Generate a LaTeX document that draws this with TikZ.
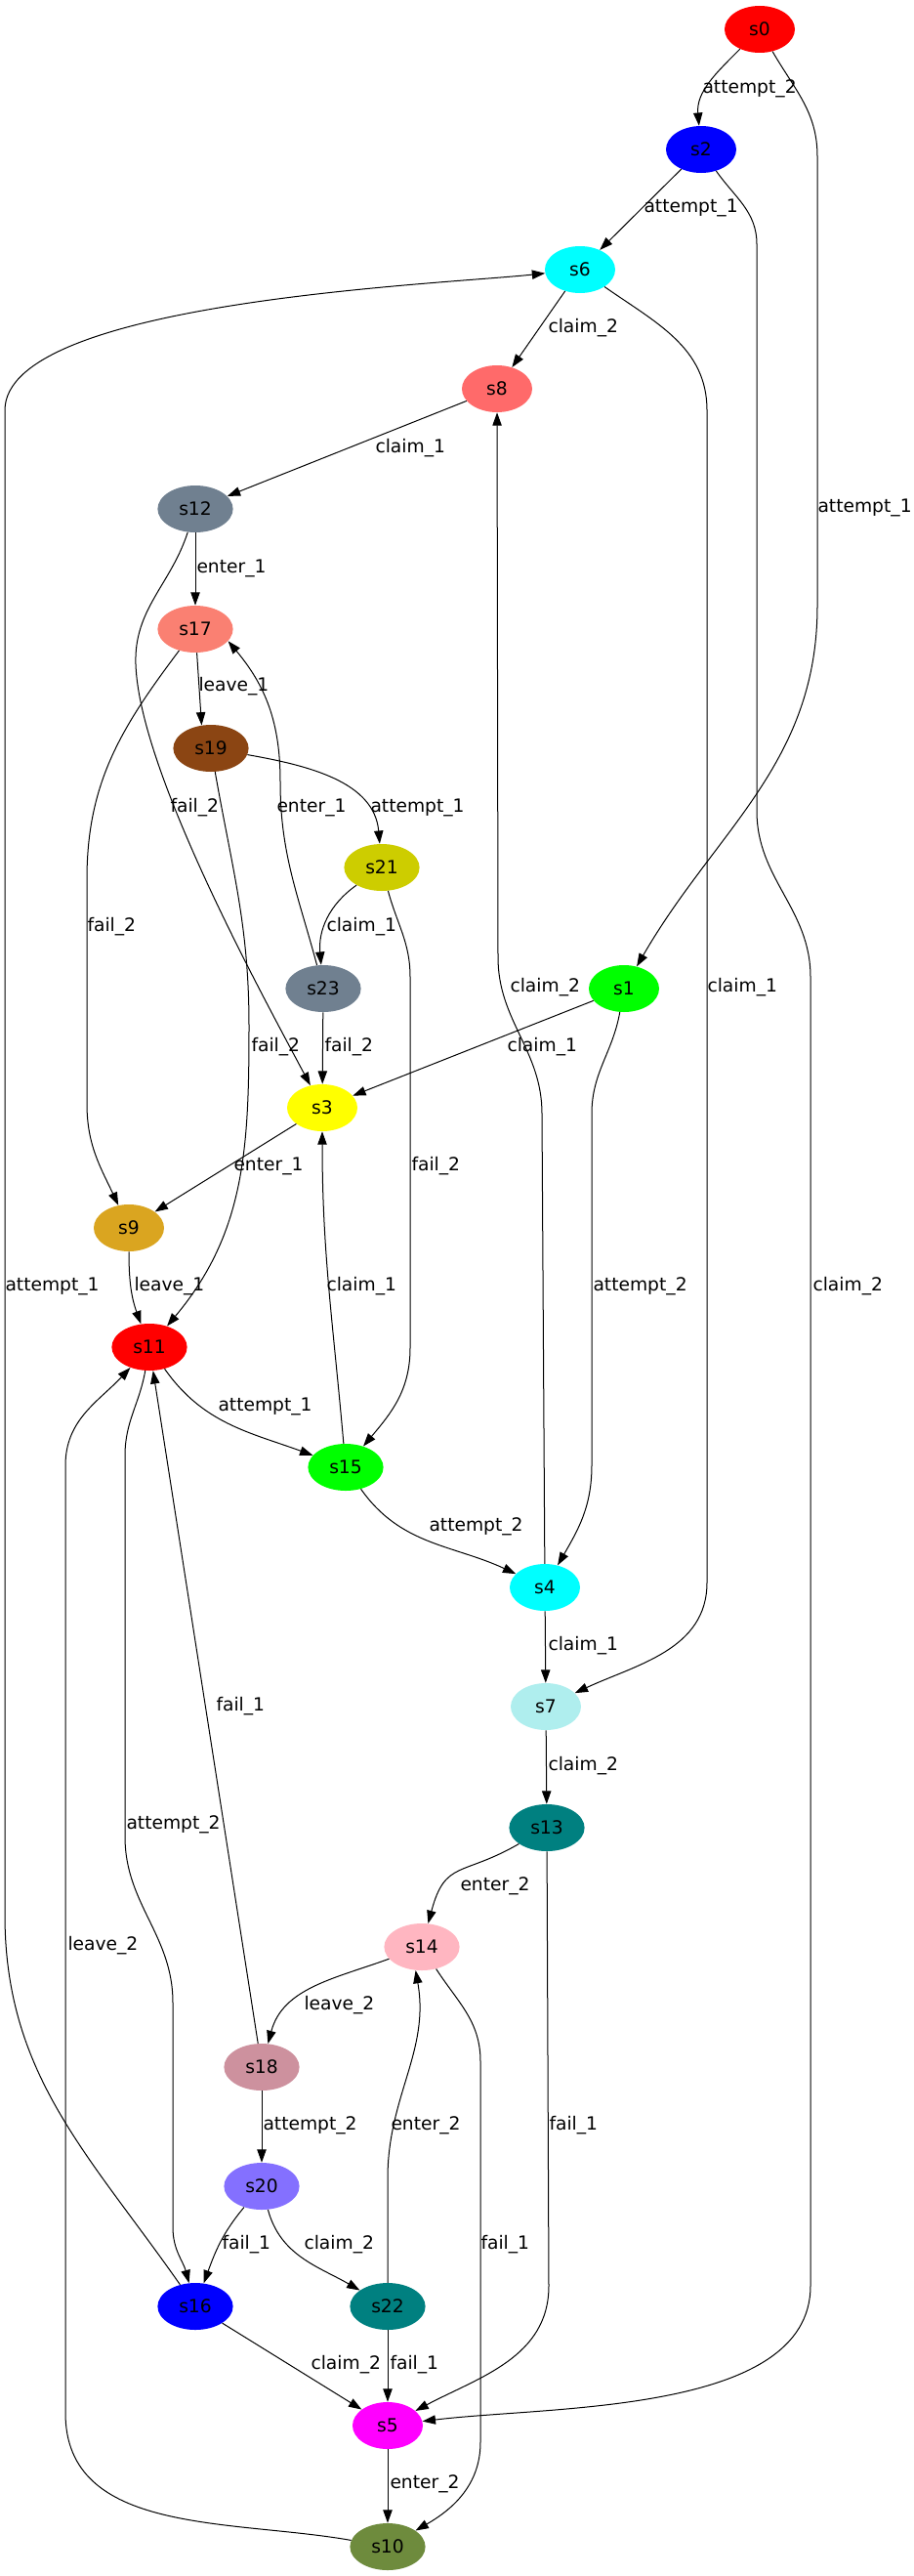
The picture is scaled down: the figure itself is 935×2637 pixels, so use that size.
\documentclass[tikz,border=0pt]{standalone}
\usepackage{fontspec}
\setmainfont{DejaVu Sans}
\usepackage{tikz}
\usetikzlibrary{shapes.geometric, arrows.meta}

\definecolor{colRed}{RGB}{255,0,0}
\definecolor{colBlue}{RGB}{0,0,255}
\definecolor{colGreen}{RGB}{0,255,0}
\definecolor{colCyan}{RGB}{0,255,255}
\definecolor{colYellow}{RGB}{255,255,0}
\definecolor{colMagenta}{RGB}{255,0,255}
\definecolor{colIndian}{RGB}{255,106,106}
\definecolor{colSlate}{RGB}{112,128,144}
\definecolor{colSalmon}{RGB}{250,128,114}
\definecolor{colBrown}{RGB}{139,69,19}
\definecolor{colYellowIII}{RGB}{205,205,0}
\definecolor{colGolden}{RGB}{218,165,32}
\definecolor{colPaleTurq}{RGB}{175,238,238}
\definecolor{colTeal}{RGB}{0,128,128}
\definecolor{colLightPink}{RGB}{255,182,193}
\definecolor{colPinkIII}{RGB}{205,145,158}
\definecolor{colLightSlateBlue}{RGB}{132,112,255}
\definecolor{colOlive}{RGB}{110,139,61}

\tikzstyle{state} = [ellipse, draw=none, minimum width=54pt, minimum height=36pt, inner xsep=7.92pt, inner ysep=3.96pt, font=\fontsize{14}{16}\selectfont]
\tikzstyle{lbl} = [anchor=west, inner sep=0pt, font=\fontsize{14}{16}\selectfont]
\tikzstyle{arrow} = [line width=0.75pt, -{Triangle[length=10pt,width=7pt]}]

\begin{document}
\begin{tikzpicture}[x=0.75pt, y=-0.75pt]
\useasboundingbox (0,0) rectangle (935,2637);

\node (s0) [state, fill=colRed] at (778,30) {s0};
\node (s2) [state, fill=colBlue] at (718,153) {s2};
\node (s6) [state, fill=colCyan] at (594,276) {s6};
\node (s8) [state, fill=colIndian] at (509,398) {s8};
\node (s12) [state, fill=colSlate] at (200,521) {s12};
\node (s17) [state, fill=colSalmon] at (200,644) {s17};
\node (s19) [state, fill=colBrown] at (216,766) {s19};
\node (s21) [state, fill=colYellowIII] at (391,888) {s21};
\node (s23) [state, fill=colSlate] at (331,1012) {s23};
\node (s1) [state, fill=colGreen] at (639,1012) {s1};
\node (s3) [state, fill=colYellow] at (330,1134) {s3};
\node (s9) [state, fill=colGolden] at (132,1257) {s9};
\node (s11) [state, fill=colRed] at (153,1379) {s11};
\node (s15) [state, fill=colGreen] at (354,1502) {s15};
\node (s4) [state, fill=colCyan] at (558,1625) {s4};
\node (s7) [state, fill=colPaleTurq] at (559,1747) {s7};
\node (s13) [state, fill=colTeal] at (560,1871) {s13};
\node (s14) [state, fill=colLightPink] at (432,1993) {s14};
\node (s18) [state, fill=colPinkIII] at (268,2116) {s18};
\node (s20) [state, fill=colLightSlateBlue] at (268,2238) {s20};
\node (s16) [state, fill=colBlue] at (200,2361) {s16};
\node (s22) [state, fill=colTeal] at (397,2361) {s22};
\node (s5) [state, fill=colMagenta] at (397,2483) {s5};
\node (s10) [state, fill=colOlive] at (397,2607) {s10};

\draw [arrow] (s0) to[out=225, in=95] (s2) node[lbl] at (719,91) {attempt\_2};
\draw [arrow] (s0) to[out=-60, in=90] (837,160) -- (837,620) to[out=-90, in=60] (s1) node[lbl] at (837,520) {attempt\_1};
\draw [arrow] (s2) -- (s6) node[lbl] at (659,213) {attempt\_1};
\draw [arrow] (s2) to[out=-55, in=90] (775,250) -- (775,830) to[out=-90, in=90] (830,1000) -- (830,2340) to[out=-90, in=7, looseness=0.8] (s5) node[lbl] at (832,1317) {claim\_2};
\draw [arrow] (s6) -- (s8) node[lbl] at (561,336) {claim\_2};
\draw [arrow] (s6) to[out=-35, in=90] (724,420) -- (724,1620) to[out=-90, in=25] (s7) node[lbl] at (724,1011) {claim\_1};
\draw [arrow] (s16) to[out=125, in=-90] (5,1960) -- (5,420) to[out=90, in=186, looseness=0.5] (s6) node[lbl] at (5,1317) {attempt\_1};
\draw [arrow] (s8) -- (s12) node[lbl] at (384,459) {claim\_1};
\draw [arrow] (s4) -- (555,1140) to[out=90, in=-90] (510,980) -- (s8) node[lbl] at (522,1011) {claim\_2};
\draw [arrow] (s12) -- (s17) node[lbl] at (201,582) {enter\_1};
\draw [arrow] (s12) to[out=-108, in=92] (139,680) to[out=-88, in=118, looseness=0.6] (s3) node[lbl] at (174,827) {fail\_2};
\draw [arrow] (s17) -- (s19.112) node[lbl] at (203,703) {leave\_1};
\draw [arrow] (s17) to[out=-127, in=90] (89,900) -- (89,1130) to[out=-90, in=115] (s9) node[lbl] at (89,949) {fail\_2};
\draw [arrow] (s23) to[out=105, in=-90] (287,800) to[out=90, in=-50] (s17.-20) node[lbl] at (283,827) {enter\_1};
\draw [arrow] (s19) to[out=-10, in=95] (s21) node[lbl] at (379,827) {attempt\_1};
\draw [arrow] (s19) to[out=-80, in=90] (255,1050) to[out=-90, in=50] (s11) node[lbl] at (257,1072) {fail\_2};
\draw [arrow] (s21) to[out=-145, in=95] (s23) node[lbl] at (334,949) {claim\_1};
\draw [arrow] (s21) to[out=-75, in=90] (420,1000) -- (420,1380) to[out=-90, in=50] (s15) node[lbl] at (421,1194) {fail\_2};
\draw [arrow] (s23) -- (s3) node[lbl] at (332,1072) {fail\_2};
\draw [arrow] (s1) -- (s3) node[lbl] at (519,1072) {claim\_1};
\draw [arrow] (s1) to[out=-100, in=90] (606,1140) -- (606,1500) to[out=-90, in=60] (s4) node[lbl] at (607,1317) {attempt\_2};
\draw [arrow] (s3) -- (s9) node[lbl] at (239,1194) {enter\_1};
\draw [arrow] (s15) to[out=95, in=-90] (s3) node[lbl] at (334,1317) {claim\_1};
\draw [arrow] (s9) to[out=-90, in=110] (s11) node[lbl] at (137,1317) {leave\_1};
\draw [arrow] (s11) to[out=-55, in=160] (s15) node[lbl] at (223,1440) {attempt\_1};
\draw [arrow] (s15) to[out=-55, in=155] (s4) node[lbl] at (439,1563) {attempt\_2};
\draw [arrow] (s4) -- (s7) node[lbl] at (561,1685) {claim\_1};
\draw [arrow] (s18) -- (s11) node[lbl] at (221,1747) {fail\_1};
\draw [arrow] (s7) -- (s13) node[lbl] at (561,1808) {claim\_2};
\draw [arrow] (s11) to[out=-100, in=90] (128,1490) -- (128,1880) to[out=-90, in=90] (177,2050) -- (177,2280) to[out=-90, in=105] (s16) node[lbl] at (129,1868) {attempt\_2};
\draw [arrow] (s13) to[out=-150, in=75, looseness=1.4] (s14) node[lbl] at (471,1931) {enter\_2};
\draw [arrow] (s13) -- (562,2340) to[out=-90, in=28] (s5) node[lbl] at (562,2176) {fail\_1};
\draw [arrow] (s14) to[out=200, in=75] (s18) node[lbl] at (311,2053) {leave\_2};
\draw [arrow] (s14) to[out=-57, in=90] (492,2110) -- (492,2500) to[out=-90, in=30] (s10) node[lbl] at (492,2298) {fail\_1};
\draw [arrow] (s22) -- (397,2230) to[out=90, in=-80] (s14.-105) node[lbl] at (400,2176) {enter\_2};
\draw [arrow] (s18) -- (s20) node[lbl] at (269,2176) {attempt\_2};
\draw [arrow] (s20) to[out=-130, in=70] (s16) node[lbl] at (227,2298) {fail\_1};
\draw [arrow] (s20) to[out=-75, in=150] (s22) node[lbl] at (311,2298) {claim\_2};
\draw [arrow] (s16) -- (s5) node[lbl] at (318,2421) {claim\_2};
\draw [arrow] (s22) -- (s5) node[lbl] at (399,2421) {fail\_1};
\draw [arrow] (s5) -- (s10) node[lbl] at (399,2543) {enter\_2};
\draw [arrow] (s10) to[out=170, in=-90] (67,2470) -- (67,1500) to[out=90, in=-133] (s11) node[lbl] at (69,1992) {leave\_2};

\end{tikzpicture}
\end{document}
